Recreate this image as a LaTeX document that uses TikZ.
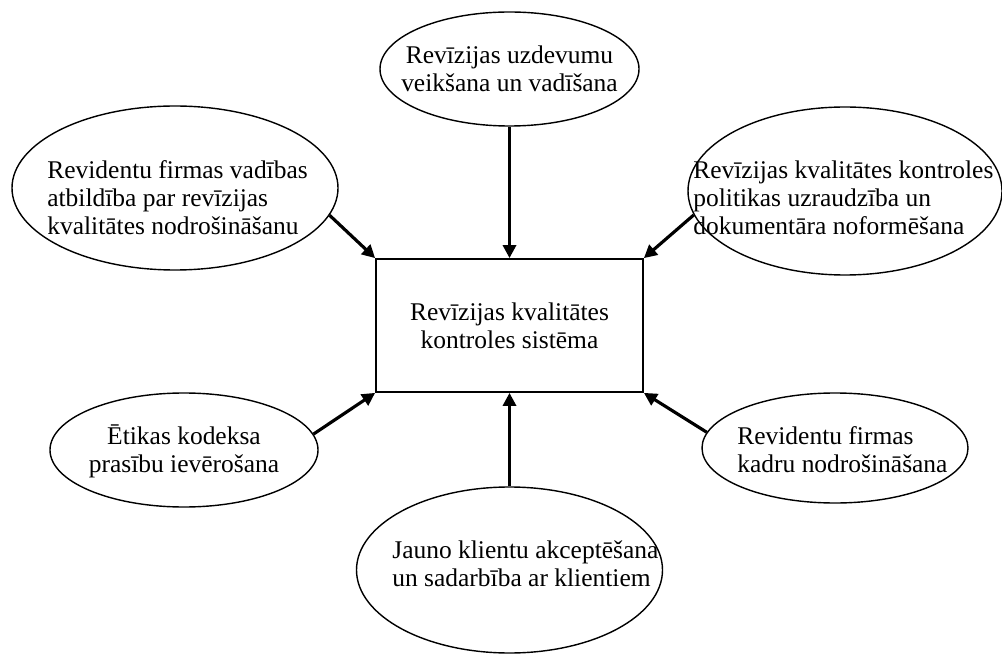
\documentclass[tikz,border=0pt]{standalone}
\usepackage{fontspec}
\setmainfont{Liberation Serif}
\usetikzlibrary{arrows.meta,shapes.geometric}

\begin{document}
\begin{tikzpicture}[
  oval/.style={draw, ellipse, line width=0.8pt, inner sep=0pt},
  box/.style={draw, rectangle, line width=1pt, minimum width=5.34cm, minimum height=2.66cm, align=center, font=\fontsize{14.5}{16}\selectfont},
  lbl/.style={inner sep=0pt, font=\fontsize{14.5}{16}\selectfont},
  arrow/.style={-{Triangle[length=2.6mm, width=2.6mm]}, line width=1.8pt}
]
  \useasboundingbox (0,0) rectangle (20.04,13.1);

  % central box
  \node[box] (sys) at (10.19,6.59) {Revīzijas kvalitātes\\kontroles sistēma};

  % surrounding ovals
  \node[oval, minimum width=5.18cm, minimum height=2.28cm] (uzd) at (10.19,11.72) {};
  \node[lbl, align=center] (uzd-t) at (uzd) {Revīzijas uzdevumu\\veikšana un vadīšana};

  \node[oval, minimum width=6.52cm, minimum height=3.28cm] (firma) at (3.5,9.34) {};
  \node[lbl, align=left, anchor=west] (firma-t) at (0.94,9.14) {Revidentu firmas vadības\\atbildība par revīzijas\\kvalitātes nodrošināšanu};

  \node[oval, minimum width=6.28cm, minimum height=3.36cm] (kontr) at (16.9,9.28) {};
  \node[lbl, align=left, anchor=west] (kontr-t) at (13.86,9.14) {Revīzijas kvalitātes kontroles\\politikas uzraudzība un\\dokumentāra noformēšana};

  \node[oval, minimum width=5.36cm, minimum height=2.28cm] (etika) at (3.68,4.1) {};
  \node[lbl, align=center] (etika-t) at (3.68,4.08) {Ētikas kodeksa\\prasību ievērošana};

  \node[oval, minimum width=5.32cm, minimum height=2.2cm] (kadri) at (16.7,4.14) {};
  \node[lbl, align=left, anchor=west] (kadri-t) at (14.74,4.1) {Revidentu firmas\\kadru nodrošināšana};

  \node[oval, minimum width=6.12cm, minimum height=3.32cm] (klienti) at (10.19,1.7) {};
  \node[lbl, align=left, anchor=west] (klienti-t) at (7.84,1.82) {Jauno klientu akceptēšana\\un sadarbība ar klientiem};

  % arrows into the box
  \draw[arrow] (uzd) -- (sys);
  \draw[arrow] (firma.350) -- (sys.north west);
  \draw[arrow] (kontr.189) -- (sys.north east);
  \draw[arrow] (etika.7) -- (sys.south west);
  \draw[arrow] (kadri.173) -- (sys.south east);
  \draw[arrow] (klienti) -- (sys);
\end{tikzpicture}
\end{document}
